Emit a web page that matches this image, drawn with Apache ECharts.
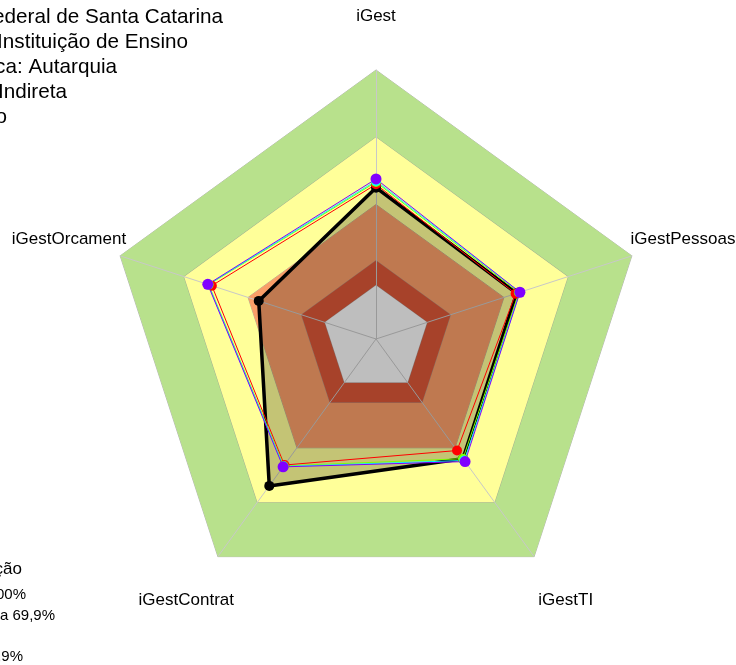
<!DOCTYPE html>
<html>
<head>
<meta charset="utf-8">
<script src="https://cdn.jsdelivr.net/npm/echarts@6/dist/echarts.min.js"></script>
<style>
  html, body { margin: 0; padding: 0; background: #fff; }
  #main { width: 736px; height: 665px; }
</style>
</head>
<body>
<div id="main"></div>
<script>
// indicadores, no sentido horario a partir do topo
const categories = ['iGest', 'iGestPessoas', 'iGestTI', 'iGestContrat', 'iGestOrcament'];

// faixas de fundo (limite externo de cada faixa)
const bandLimits = [100, 70, 40, 15, 4];

// series (mesma ordem de categories)
const orgao = [47.5, 46, 46, 61, 35];
const grupo1 = [49, 45.5, 41.5, 49.5, 57];
const grupo2 = [50, 47, 46, 50, 58.5];
const grupo3 = [50.5, 47.5, 47, 50.3, 58.7];
const grupo4 = [51.4, 47.5, 47.6, 50.5, 58.9];

const headerLines = [
  'Instituto Federal de Santa Catarina',
  'Tipo: Instituição de Ensino',
  'Natureza Jurídica: Autarquia',
  'Administração Indireta',
  'Poder: Executivo'
];
const legendLines = [
  'Classificação',
  'Aprimorado: 70 a 100%',
  'Intermediário: 40 a 69,9%',
  'Inicial',
  'Iniciando: 15 a 39,9%'
];

const cx = 376, cy = 339, R = 269;
const bandColors = ['#B8E18C', '#FFFF99', '#F99E68', '#DA5637', '#F7F7F7'];

// echarts desenha os indicadores no sentido anti-horario
const ecOrder = [0, 4, 3, 2, 1];
const reorder = arr => ecOrder.map(i => arr[i]);

const indicator = ecOrder.map(i => ({ name: categories[i], min: -20, max: 100 }));

const radarBase = {
  center: [cx, cy],
  radius: R,
  shape: 'polygon',
  startAngle: 90,
  splitNumber: 5,
  indicator: indicator,
  axisName: { show: false },
  splitLine: { show: false },
  splitArea: { show: false },
  axisTick: { show: false },
  axisLabel: { show: false }
};

const lineSerie = (name, vals, color, width, size, fill) => ({
  type: 'radar',
  name: name,
  radarIndex: 0,
  z: 3,
  symbol: 'circle',
  symbolSize: size,
  data: [{
    value: reorder(vals),
    itemStyle: { color: color },
    lineStyle: { color: color, width: width },
    areaStyle: fill ? { color: fill, opacity: 1 } : undefined
  }]
});

const graphics = [];
categories.forEach((c, k) => {
  const a = (90 - k * 72) * Math.PI / 180;
  graphics.push({
    type: 'text',
    x: cx + 1.2 * R * Math.cos(a),
    y: cy - 1.2 * R * Math.sin(a),
    style: { text: c, font: '17px "Liberation Sans", Arial', fill: '#000', textAlign: 'center', textVerticalAlign: 'middle' }
  });
});
const headerEnds = [223, 188, 117, 67, 7];
headerLines.forEach((t, i) => {
  graphics.push({
    type: 'text', x: headerEnds[i], y: 17 + i * 25,
    style: { text: t, font: '20.7px "Liberation Sans", Arial', fill: '#000', textAlign: 'right', textVerticalAlign: 'middle' }
  });
});
const legendEnds = [22, 26, 55, -6, 23];
const legendY = [569, 595, 616, 636, 657];
legendLines.forEach((t, i) => {
  graphics.push({
    type: 'text', x: legendEnds[i], y: legendY[i],
    style: { text: t, font: (i === 0 ? '17px' : '15px') + ' "Liberation Sans", Arial', fill: '#000', textAlign: 'right', textVerticalAlign: 'middle' }
  });
});

const option = {
  animation: false,
  backgroundColor: '#fff',
  radar: [
    Object.assign({}, radarBase, { z: 1, axisLine: { show: false } }),
    Object.assign({}, radarBase, { z: 2, axisLine: { show: true, lineStyle: { color: '#c8c8c8', width: 1 } } })
  ],
  series: [
    {
      type: 'radar',
      radarIndex: 0,
      z: 1,
      symbol: 'none',
      silent: true,
      data: bandLimits.map((v, i) => ({
        value: categories.map(() => v),
        lineStyle: { color: 'rgba(150,150,150,0.7)', width: 1 },
        areaStyle: { color: bandColors[i], opacity: 1 }
      }))
    },
    lineSerie('Órgão', orgao, '#000000', 3.5, 10, 'rgba(0,0,0,0.23)'),
    lineSerie('Grupo 1', grupo1, '#FF0000', 1, 10),
    lineSerie('Grupo 2', grupo2, '#80FF00', 1, 10),
    lineSerie('Grupo 3', grupo3, '#00FFFF', 1, 10),
    lineSerie('Grupo 4', grupo4, '#8000FF', 1, 11)
  ],
  graphic: graphics
};

const chart = echarts.init(document.getElementById('main'));
chart.setOption(option);
</script>
</body>
</html>
